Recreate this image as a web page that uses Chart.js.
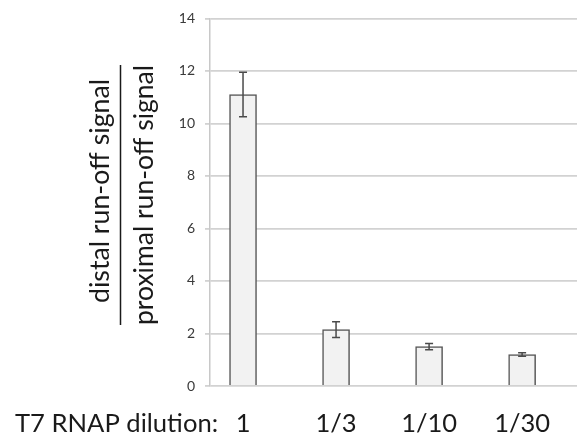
<!DOCTYPE html>
<html>
<head>
<meta charset="utf-8">
<script src="https://cdn.jsdelivr.net/npm/chart.js@4"></script>
<style>
  html, body { margin:0; padding:0; background:#fff; }
  #wrap { width:577px; height:444px; position:relative; }
</style>
</head>
<body>
<div id="wrap"><canvas id="chartRunoff"></canvas></div>
<script>
// values
const dilutions = ["1", "1/3", "1/10", "1/30"];
const ratio = [11.1, 2.15, 1.5, 1.2];
const ratioErr = [0.85, 0.3, 0.12, 0.07];
const yTicks = [0, 2, 4, 6, 8, 10, 12, 14];
const xTitle = "T7 RNAP dilution:";
const yTitleTop = "distal run-off signal";
const yTitleBottom = "proximal run-off signal";

const FONT = "Lato, 'Open Sans', sans-serif";

// pick a font size so the text spans about `target` px
function fitFont(ctx, text, target){
  ctx.font = "20px " + FONT;
  const w = ctx.measureText(text).width;
  const size = Math.max(18, Math.min(32, 20 * target / w));
  return size.toFixed(1) + "px " + FONT;
}

// error bars + the odd title layout (fraction-style y label, x label left of ticks)
const extras = {
  id: "extras",
  afterDatasetsDraw(chart){
    const ctx = chart.ctx;
    const xs = chart.scales.x, ys = chart.scales.y;
    ctx.save();
    ctx.strokeStyle = "#4a4a4a";
    ctx.lineWidth = 1.5;
    ratio.forEach((v, i) => {
      const x = xs.getPixelForValue(i);
      const top = ys.getPixelForValue(v + ratioErr[i]);
      const bot = ys.getPixelForValue(v - ratioErr[i]);
      ctx.beginPath();
      ctx.moveTo(x, top); ctx.lineTo(x, bot);
      ctx.moveTo(x - 4, top); ctx.lineTo(x + 4, top);
      ctx.moveTo(x - 4, bot); ctx.lineTo(x + 4, bot);
      ctx.stroke();
    });
    ctx.restore();
  },
  afterDraw(chart){
    const ctx = chart.ctx;
    ctx.save();
    ctx.fillStyle = "#1a1a1a";
    ctx.font = fitFont(ctx, xTitle, 203);
    ctx.textAlign = "left";
    ctx.textBaseline = "alphabetic";
    ctx.fillText(xTitle, 15, 432);

    // rotated two-line title with a divider
    ctx.translate(120.5, 195);
    ctx.rotate(-Math.PI / 2);
    ctx.textAlign = "center";
    ctx.font = fitFont(ctx, yTitleTop, 224);
    ctx.fillText(yTitleTop, 4, -12);
    ctx.font = fitFont(ctx, yTitleBottom, 260);
    ctx.fillText(yTitleBottom, 0, 32);
    ctx.strokeStyle = "#1a1a1a";
    ctx.lineWidth = 1.5;
    ctx.beginPath();
    ctx.moveTo(-130, 0); ctx.lineTo(130, 0);
    ctx.stroke();
    ctx.restore();
  }
};

new Chart(document.getElementById("chartRunoff"), {
  type: "bar",
  data: {
    datasets: [{
      data: ratio.map((v, i) => ({ x: i, y: v })),
      backgroundColor: "#f2f2f2",
      borderColor: "#555",
      borderWidth: 1.5,
      barThickness: 27
    }]
  },
  options: {
    responsive: true,
    maintainAspectRatio: false,
    animation: false,
    layout: { padding: { top: 14, right: 0, bottom: 0, left: 0 } },
    plugins: { legend: { display: false }, tooltip: { enabled: false } },
    scales: {
      x: {
        type: "linear",
        offset: false,
        min: -0.355,
        max: 3.59,
        grid: { display: false },
        border: { display: false },
        afterBuildTicks: s => { s.ticks = dilutions.map((_, i) => ({ value: i })); },
        afterFit: s => { s.height = 58; },
        ticks: {
          callback: v => dilutions[v],
          font: { family: FONT, size: 25.5 },
          color: "#1a1a1a",
          padding: 14,
          maxRotation: 0
        }
      },
      y: {
        min: 0,
        max: 14,
        afterBuildTicks: s => { s.ticks = yTicks.map(v => ({ value: v })); },
        afterFit: s => { s.width = 210; },
        grid: { color: "#d2d2d2", lineWidth: 1.8, tickLength: 5 },
        border: { color: "#c8c8c8", width: 1.5 },
        ticks: {
          font: { family: FONT, size: 14 },
          color: "#3a3a3a",
          padding: 10
        }
      }
    }
  },
  plugins: [extras]
});
</script>
</body>
</html>
